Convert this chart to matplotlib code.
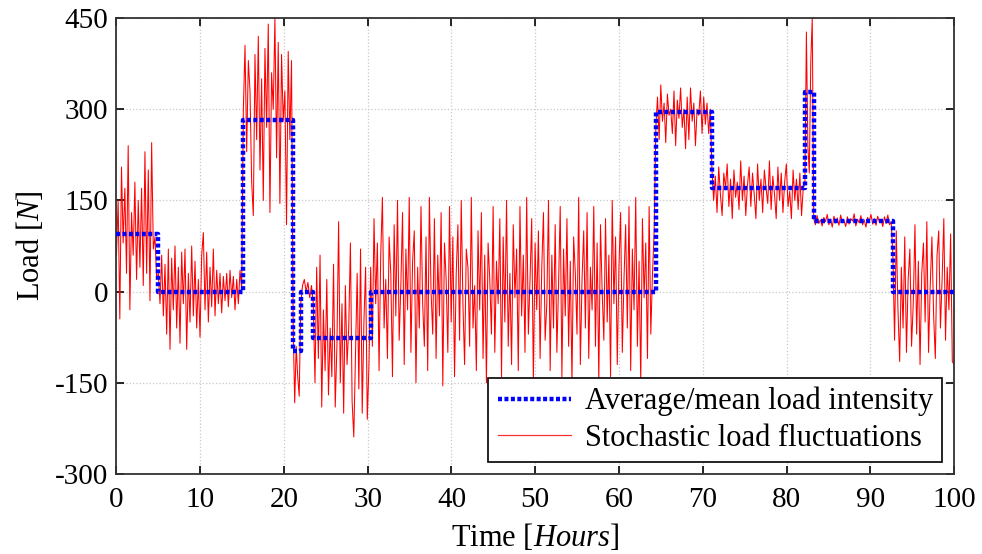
import numpy as np
import matplotlib
matplotlib.use("Agg")
import matplotlib.pyplot as plt
from matplotlib.lines import Line2D

plt.rcParams['font.family'] = ['Liberation Serif', 'DejaVu Serif']
plt.rcParams['mathtext.fontset'] = 'custom'
plt.rcParams['mathtext.rm'] = 'Liberation Serif'
plt.rcParams['mathtext.it'] = 'Liberation Serif:italic'
plt.rcParams['axes.unicode_minus'] = False

# ---- mean load intensity (step boundaries in hours and levels in N) ----
step_times = [0, 5.0, 15.15, 21.1, 22.0, 23.5, 30.35, 64.4, 71.1, 82.2, 83.25, 92.7, 100]
step_levels = [95, 0, 283, -98, 0, -77, 0, 296, 171, 329, 116, 0]

# ---- stochastic load fluctuations, read per segment ----
seg1 = [60, 150, -45, 205, 80, 170, 30, 240, -30, 130, 60, 180, 20, 150, 40, 170,
        10, 230, 30, 200, -15, 245, 70, 90, 20]
seg2 = [30, -20, 60, -40, 45, -70, 70, -95, 55, -30, 75, -60, 40, -85, 65, -20, 70,
        -95, 30, -50, 75, -40, 50, -60, 20, -75, 60, 97, -30, 65, -50, 40, -25, 70,
        -40, 35, -20, 30, -35, 25, -15, 30, -25, 35, -10, 25, -30, 20, -20, 35, 5]
seg3 = [300, 405, 230, 380, 330, 180, 125, 390, 250, 420, 200, 350, 150, 400, 270,
        440, 130, 360, 300, 450, 220, 410, 145, 390, 280, 330, 110, 395, 250, 380]
seg4 = [-60, -183, -90, -140, -172]
seg5 = [-20, 10, 20, 0, 15, -10, 10]
seg6 = [-20, -150, 40, -110, 60, -190, -30, -130, 20, -170, -60, -140, 45, -190, -90,
        115, -150, -20, -200, 10, -120, -60, 80, -180, -239, -100, 30, -160, 70, -200,
        -50, 40, -210, -120]
seg7 = [40, -90, 120, -20, 80, -130, 60, 155, -60, 20,
        -110, 90, 30, -140, 110, -40, 150, -80, 10, 130,
        -120, 70, -30, 155, -100, 50, 100, -150, 40, -60,
        140, -20, -90, 90, -130, 155, 0, -70, 120, -110,
        60, -40, 130, -155, 80, 20, -100, 140, -50, 90,
        -140, 30, 110, -80, 150, -20, -120, 70, 40, -90,
        155, -60, 10, -130, 100, -30, 130, -110, 60, -150,
        80, 20, -70, 140, -100, 50, -20, 120, -140, 90,
        -50, 150, -90, 30, -120, 110, -10, 70, -130, 140,
        -40, 60, -100, 155, -70, 20, 120, -150, 80, -30,
        100, -110, 40, 130, -80, -20, 150, -130, 60, -60,
        110, -100, 10, 140, -140, 70, -40, 120, -90, 50,
        -150, 90, 30, -70, 155, -120, 20, 100, -60, 130,
        -110, 40, -30, 140, -90, 80, -150, 110, 0, -80,
        120, -50, 60, -140, 150, -20, 90, -120, 40, 130,
        -100, 20, 110, -60, 140, -130, 70, -30, 155, -90,
        50, -150, 120, -10, 80, -110, 140, -70, 30, 100]
seg8 = [270, 320, 250, 340, 280, 310, 245, 325, 290, 300, 260, 330, 240, 315, 285,
        335, 270, 300, 235, 320, 250, 335, 280, 310, 240, 300, 290, 330, 260, 320,
        275, 310, 260, 300]
seg9 = [200, 150, 190, 130, 205, 160, 125, 195, 170, 210, 140, 185, 120, 200, 155,
        180, 135, 215, 150, 190, 125, 175, 205, 140, 195, 160, 120, 210, 150, 185,
        130, 200, 170, 145, 215, 135, 190, 160, 120, 205, 150, 195, 130, 180, 210,
        140, 165, 120, 200, 150, 185, 135, 195, 125, 170]
seg10 = [180, 427, 240, 195, 380, 450]
seg11 = [120, 110, 125, 112, 118, 108, 122, 115, 127, 110, 119, 106, 124, 113, 121,
         109, 126, 114, 117, 107, 123, 111, 120, 116, 128, 108, 119, 113, 125, 110,
         118, 106, 122, 115, 127, 111, 120, 109, 124, 114, 118, 107, 123, 112, 126,
         110, 115]
seg12 = [60, -80, 100, -30, -115, 40, -60, 90, -100, 20, 70, -90, -20, 110, -70, 50,
         -120, 30, 80, -50, 115, -100, 10, 90, -40, -110, 60, 100, -60, 20, 120, -80,
         40, -30, 95, -115, -120]
segments = [seg1, seg2, seg3, seg4, seg5, seg6, seg7, seg8, seg9, seg10, seg11, seg12]

t_parts, v_parts = [], []
for i, seg in enumerate(segments):
    last = (i == len(segments) - 1)
    t_parts.append(np.linspace(step_times[i], step_times[i + 1], len(seg), endpoint=last))
    v_parts.append(np.asarray(seg, dtype=float))
t_noise = np.concatenate(t_parts)
v_noise = np.concatenate(v_parts)

x_ticks = [0, 10, 20, 30, 40, 50, 60, 70, 80, 90, 100]
y_ticks = [-300, -150, 0, 150, 300, 450]

fig = plt.figure(figsize=(9.82, 5.54), dpi=100)
ax = fig.add_axes([0.1186, 0.1444, 0.8529, 0.8231])

ax.plot(t_noise, v_noise, color='red', lw=0.75, zorder=2)
ax.step(step_times, step_levels + [step_levels[-1]], where='post', color='blue',
        lw=3.2, linestyle=(0, (0.9, 0.55)), zorder=3)

ax.set_xlim(0, 100)
ax.set_ylim(-300, 450)
ax.set_xticks(x_ticks)
ax.set_yticks(y_ticks)
ax.tick_params(direction='in', top=True, right=True, length=6, width=1.2,
               labelsize=21, colors='black')
ax.tick_params(axis='x', pad=9)
ax.tick_params(axis='y', pad=6)
for s in ax.spines.values():
    s.set_color('#333333')
    s.set_linewidth(1.3)
ax.grid(True, color='#c8c8c8', linestyle=':', linewidth=0.9)
ax.set_axisbelow(True)

ax.set_xlabel('Time [$\\mathit{Hours}$]', fontsize=22, labelpad=7)
ax.set_ylabel('Load [$\\mathit{N}$]', fontsize=22, labelpad=6)

handles = [Line2D([], [], color='blue', lw=3.2, linestyle=(0, (0.9, 0.55))),
           Line2D([], [], color='#ff3030', lw=0.9)]
leg = ax.legend(handles, ['Average/mean load intensity', 'Stochastic load fluctuations'],
                loc='lower right', bbox_to_anchor=(0.9857, 0.026), fontsize=22,
                fancybox=False, framealpha=1, edgecolor='black', handlelength=2.4,
                handletextpad=0.45, borderpad=0.3, labelspacing=0.25, borderaxespad=0)
leg.get_frame().set_linewidth(1.2)

fig.savefig('out.png', dpi=100)
